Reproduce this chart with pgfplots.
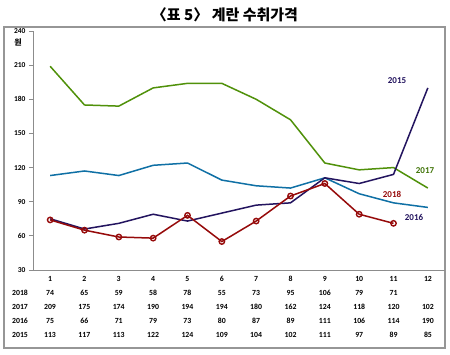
\documentclass[border=0pt]{standalone}
\usepackage{fontspec}
\setmainfont{Carlito}
\newfontfamily\cjk{Noto Sans CJK KR}
\usepackage{pgfplots}
\pgfplotsset{compat=1.18}
\definecolor{cRed}{RGB}{150,10,10}
\definecolor{cGreen}{RGB}{80,145,10}
\definecolor{cNavy}{RGB}{35,20,95}
\definecolor{cBlue}{RGB}{15,112,165}
\definecolor{cAxis}{RGB}{140,140,140}
\definecolor{cFrame}{RGB}{150,150,150}
\begin{document}
\begin{tikzpicture}
\fill[white] (0pt,0pt) rectangle (450pt,354pt);
\node[draw=cFrame, line width=1.2pt, minimum width=441pt, minimum height=321pt, inner sep=0pt, outer sep=0pt] at (224.5pt,166.5pt) {};
% title
\node[font=\cjk\bfseries\fontsize{15}{15}\selectfont] at (225pt,339pt) {〈표 5〉 계란 수취가격};
\begin{axis}[
  at={(33pt,84pt)}, anchor=south west,
  scale only axis, width=412pt, height=239pt,
  xmin=0.5, xmax=12.5, ymin=30, ymax=240,
  axis x line*=bottom, axis y line*=left,
  axis line style={cAxis, line width=0.9pt, -},
  xtick=\empty,
  ytick={30,60,90,120,150,180,210,240},
  yticklabel style={font=\bfseries\fontsize{7.5}{8}\selectfont, text=black},
  /pgf/number format/assume math mode=true,
  tick style={cAxis, line width=0.8pt},
  tick align=outside, major tick length=4pt,
  clip=false,
]
\addplot[cGreen, line width=1.5pt] coordinates {(1,209)(2,175)(3,174)(4,190)(5,194)(6,194)(7,180)(8,162)(9,124)(10,118)(11,120)(12,102)};
\addplot[cBlue, line width=1.5pt] coordinates {(1,113)(2,117)(3,113)(4,122)(5,124)(6,109)(7,104)(8,102)(9,111)(10,97)(11,89)(12,85)};
\addplot[cNavy, line width=1.5pt] coordinates {(1,75)(2,66)(3,71)(4,79)(5,73)(6,80)(7,87)(8,89)(9,111)(10,106)(11,114)(12,190)};
\addplot[cRed, line width=1.5pt, mark=o, mark size=2.7pt, mark options={fill=white, line width=1.4pt}] coordinates {(1,74)(2,65)(3,59)(4,58)(5,78)(6,55)(7,73)(8,95)(9,106)(10,79)(11,71)};
\end{axis}
% unit
\node[font=\cjk\bfseries\fontsize{8}{8}\selectfont, inner sep=0pt] at (18pt,312pt) {원};
% line labels
\node[font=\bfseries\fontsize{9}{9}\selectfont, text=cNavy] at (397pt,273pt) {2015};
\node[font=\bfseries\fontsize{9}{9}\selectfont, text=cGreen!80!black] at (425pt,183pt) {2017};
\node[font=\bfseries\fontsize{9}{9}\selectfont, text=cRed] at (392pt,160pt) {2018};
\node[font=\bfseries\fontsize{9}{9}\selectfont, text=cNavy] at (414pt,137pt) {2016};
% data table
\begin{scope}[every node/.style={font=\bfseries\fontsize{7.8}{8}\selectfont, inner sep=0pt}]
\foreach \m [count=\i] in {1,...,12} { \node at ({50pt+(\i-1)*34.36pt},75pt) {\m}; }
\node at (20pt,61pt) {2018};
\node at (20pt,47pt) {2017};
\node at (20pt,33pt) {2016};
\node at (20pt,19pt) {2015};
\foreach \v [count=\i] in {74,65,59,58,78,55,73,95,106,79,71} { \node at ({50pt+(\i-1)*34.36pt},61pt) {\v}; }
\foreach \v [count=\i] in {209,175,174,190,194,194,180,162,124,118,120,102} { \node at ({50pt+(\i-1)*34.36pt},47pt) {\v}; }
\foreach \v [count=\i] in {75,66,71,79,73,80,87,89,111,106,114,190} { \node at ({50pt+(\i-1)*34.36pt},33pt) {\v}; }
\foreach \v [count=\i] in {113,117,113,122,124,109,104,102,111,97,89,85} { \node at ({50pt+(\i-1)*34.36pt},19pt) {\v}; }
\end{scope}
\end{tikzpicture}
\end{document}
